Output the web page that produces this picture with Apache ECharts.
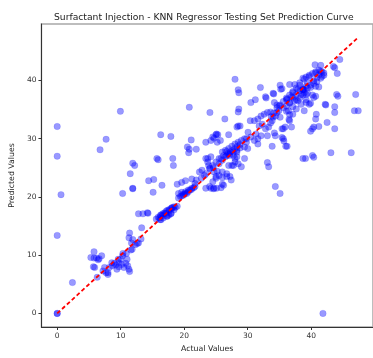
<!DOCTYPE html>
<html>
<head>
<meta charset="utf-8">
<script src="https://cdn.jsdelivr.net/npm/echarts@6/dist/echarts.min.js"></script>
<style>
html,body{margin:0;padding:0;background:#fff;}
#chart{width:373px;height:358px;}
</style>
</head>
<body>
<div id="chart"></div>
<script>
const titleText = "Surfactant Injection - KNN Regressor Testing Set Prediction Curve";
const xAxisName = "Actual Values";
const yAxisName = "Predicted Values";
const xTicks = [0, 10, 20, 30, 40];
const yTicks = [0, 10, 20, 30, 40];
const idealLine = [0, 47.3];

const actualValues = [
0,0,6.75,7.7,9.95,11.9,12.2,11.5,11.9,14.4,15.2,15.7,15.9,16.3,16.5,17.9,18.2,18.3,18.9,19.6,20.2,20.8,20.5,20.8,20.7,21.1,
0,0.6,2.4,0,0,10.3,11.9,15.1,12.8,13.5,14.2,14.3,11.4,11.3,13.3,13.2,12.6,11.6,
5.3,5.8,5.8,6.2,6.6,7.0,6.45,5.7,5.9,6.3,7.2,7.7,8.0,
8.6,9.0,9.2,9.7,10.0,10.3,10.35,9.6,9.4,9.7,10.5,10.8,11.1,11.3,11.4,11.0,10.9,10.15,8.7,8.2,
15.6,15.9,16.3,16.6,16.85,17.1,17.35,17.6,17.9,18.1,16.2,16.7,17.25,17.6,17.95,18.4,18.6,18.9,
19.1,19.6,20.2,20.65,21.2,19.9,20.4,
21.9,23.4,24.2,24.7,25.1,25.3,24.05,26.4,27.0,28.5,21.2,21.7,22.4,22.8,23.2,22.7,23.7,23.4,23.85,24.05,24.6,24.7,25.2,25.5,25.0,24.5,24.0,24.6,25.1,25.8,26.2,26.0,26.7,27.2,27.4,
25.5,26.0,26.5,26.9,27.25,27.6,28.0,28.4,28.8,25.8,26.2,26.7,27.1,27.75,28.3,28.0,27.5,28.5,28.3,
19.1,19.6,20.15,20.65,21.15,21.5,19.4,20.9,21.7,19.9,
16.1,16.6,17.1,17.6,18.1,18.4,16.35,17.35,17.9,
12.8,12.3,11.9,
28.0,28.5,28.6,28.6,28.5,32.0,28.3,28.8,30.5,31.2,32.8,34.0,35.1,35.4,34.2,35.0,36.2,36.9,
36.1,36.6,37.1,37.65,38.2,38.7,39.2,39.4,36.4,37.4,37.9,38.4,38.9,37.65,36.6,35.9,35.4,37.1,
31.05,31.6,32.1,32.6,33.1,33.6,34.0,34.4,34.6,34.9,31.8,32.3,32.8,33.3,33.85,35.1,35.6,36.2,33.85,33.1,32.1,31.3,30.5,30.4,30.05,29.5,29.8,
26.0,26.5,27.0,27.5,28.0,28.5,29.0,29.8,26.7,27.2,27.75,28.3,28.8,25.5,25.0,24.5,24.0,23.4,27.75,29.0,29.5,27.0,26.0,25.0,26.7,23.7,24.2,25.2,24.5,25.0,25.7,29.5,30.0,31.05,31.6,31.6,28.0,
34.35,35.1,38.7,39.1,33.3,33.1,
40.6,44.5,43.5,43.7,44.1,47.0,44.0,44.2,43.7,43.7,46.8,47.4,42.3,43.7,42.5,46.3,43.1,40.2,40.4,40.8,40.7,40.4,40.2,41.2,32.9,35.2,
36.6,37.4,38.2,38.9,39.7,40.2,40.7,41.2,41.7,42.0,41.5,40.9,40.4,38.7,39.9,40.7,39.2,37.9,37.1,
39.9,36.6,36.5,36.9,35.6,35.4,35.7,36.0,34.2,34.35,33.6,34.1,34.6,36.1,36.6,37.65,39.2,39.9,40.2,39.4,38.7,
38.7,39.2,39.7,40.7,41.2,41.7,42.0,41.5,40.9,40.4,39.9,39.4,38.9,38.2,37.65,37.1,36.6,36.1,35.6,35.1,34.6,34.1,33.7,35.6,36.1,37.1,38.2,38.7,41.2,41.5,
16.3,11.7,11.8,7.45,8.0,
26.0,24.7,24.2,23.4,21.9,
40.7,40.4,39.7,39.2,38.9,38.4,42.2,
41.85
];

const predictedValues = [
32.1,27.0,28.1,29.9,34.7,25.8,25.4,24.0,21.5,22.8,23.0,26.6,26.4,30.7,22.0,30.4,26.6,25.4,22.2,22.5,22.8,35.4,28.6,28.2,27.6,29.8,
13.4,20.4,5.3,0,0,20.6,21.4,20.8,17.1,17.1,17.3,17.2,13.8,13.0,14.7,12.8,12.0,10.9,
9.6,10.6,9.5,9.5,9.4,9.9,9.2,8.0,7.9,6.2,7.3,7.0,6.7,
8.7,8.6,8.3,8.7,9.3,9.9,10.3,9.3,7.6,8.0,7.9,8.6,8.2,7.6,7.2,9.3,10.3,8.4,8.2,7.9,
16.2,16.5,16.8,17.1,17.2,17.5,17.7,17.8,18.0,18.2,16.1,16.4,16.7,16.9,17.2,17.8,18.2,18.4,
20.6,20.8,20.9,21.2,21.5,20.3,20.6,
28.2,29.4,29.7,30.1,30.8,30.7,34.5,33.4,30.7,32.2,23.1,22.3,24.3,24.6,23.7,23.2,26.0,26.6,25.4,24.9,25.0,24.3,24.4,23.7,23.2,22.6,21.8,21.4,21.5,21.6,22.0,23.3,23.5,23.5,22.9,
25.7,26.3,26.9,27.4,27.7,28.0,28.3,28.7,29.0,26.6,27.1,27.8,27.1,27.1,26.9,26.0,25.4,25.7,27.7,
19.8,20.2,20.6,20.9,21.3,21.6,20.1,21.2,21.8,20.5,
16.4,16.8,17.2,17.6,18.1,18.3,16.1,16.7,17.1,
12.1,11.8,12.7,
40.2,38.4,37.9,35.1,34.6,38.8,32.0,32.2,36.2,36.7,37.2,37.8,39.2,38.6,36.2,35.6,36.8,37.2,
35.6,36.2,37.1,37.6,38.2,38.6,39.0,39.6,34.8,36.5,36.5,37.6,37.9,35.1,33.1,32.0,31.7,34.2,
33.1,33.4,33.9,34.2,34.5,34.6,33.7,33.9,34.5,34.8,32.2,32.5,31.7,32.0,33.1,33.7,30.0,28.7,28.7,30.5,30.5,30.8,30.3,33.1,31.1,30.0,29.4,
27.7,28.0,28.3,28.7,29.1,29.4,29.7,30.0,27.1,27.4,27.7,28.0,28.4,26.6,26.0,25.4,24.9,24.0,25.4,25.2,26.6,25.4,24.3,23.5,24.0,26.6,26.9,29.4,30.3,30.7,29.7,28.6,28.3,29.7,30.0,29.1,26.6,
21.8,20.6,26.6,26.6,25.2,25.9,
42.7,43.6,42.4,42.2,41.2,37.6,37.6,37.3,35.5,34.5,34.8,34.8,35.8,31.7,32.8,27.6,27.6,27.1,26.8,34.2,33.4,32.0,31.7,32.1,37.0,38.5,
39.3,39.3,39.6,40.2,40.7,41.2,41.3,41.0,40.7,41.3,41.6,40.5,39.9,38.5,38.8,37.3,37.6,38.5,37.9,
31.3,34.1,33.3,32.0,31.7,30.2,29.6,28.7,31.0,30.5,32.7,37.7,35.8,36.7,36.1,36.7,36.7,36.1,37.5,37.8,38.4,
40.4,40.6,40.9,41.5,41.8,41.5,40.9,40.4,39.8,39.5,39.2,38.7,38.4,39.2,38.7,38.1,37.5,37.0,36.4,35.8,35.3,34.4,33.8,35.3,34.7,35.5,37.0,37.5,38.9,42.6,
16.9,12.1,11.0,7.9,7.0,
22.2,21.5,21.5,21.5,22.9,
39.0,37.1,35.9,36.2,34.8,35.9,35.9,
0
];

const points = actualValues.map((a, i) => [a, predictedValues[i]]);
const linePoints = [[idealLine[0], idealLine[0]], [idealLine[1], idealLine[1]]];

const font = "DejaVu Sans";
const chart = echarts.init(document.getElementById('chart'), null, {renderer: 'canvas'});
chart.setOption({
  animation: false,
  backgroundColor: '#fff',
  title: {
    text: titleText,
    left: 49, top: 8,
    textStyle: {fontFamily: font, fontSize: 9.2, fontWeight: 'normal', color: '#222'}
  },
  grid: {
    left: 33, top: 24, right: -3, bottom: 28,
    show: true, borderColor: '#a8a8a8', borderWidth: 1.5, backgroundColor: 'transparent'
  },
  xAxis: {
    type: 'value', min: -2.48, max: 49.73,
    name: xAxisName, nameLocation: 'middle', nameGap: 18,
    nameTextStyle: {fontFamily: font, fontSize: 7.8, color: '#222'},
    splitLine: {show: false},
    axisLine: {show: true, onZero: false, lineStyle: {color: '#333', width: 1}},
    axisTick: {show: true, length: 3, customValues: xTicks, lineStyle: {color: '#333'}},
    axisLabel: {customValues: xTicks, fontFamily: font, fontSize: 7.5, color: '#333', margin: 5}
  },
  yAxis: {
    type: 'value', min: -2.33, max: 49.7,
    name: yAxisName, nameLocation: 'middle', nameGap: 19,
    nameTextStyle: {fontFamily: font, fontSize: 7.8, color: '#222'},
    splitLine: {show: false},
    axisLine: {show: true, onZero: false, lineStyle: {color: '#333', width: 1}},
    axisTick: {show: true, length: 3, customValues: yTicks, lineStyle: {color: '#333'}},
    axisLabel: {customValues: yTicks, fontFamily: font, fontSize: 7.5, color: '#333', margin: 5}
  },
  series: [
    {
      type: 'scatter', data: points, symbolSize: 6.5,
      itemStyle: {color: 'rgba(0,0,255,0.5)', borderColor: 'rgba(0,0,255,0.3)', borderWidth: 0.5},
      z: 2
    },
    {
      type: 'line', data: linePoints, symbol: 'none',
      lineStyle: {color: '#ff0000', width: 1.8, type: [4, 2.6]},
      z: 3
    }
  ]
});
</script>
</body>
</html>
